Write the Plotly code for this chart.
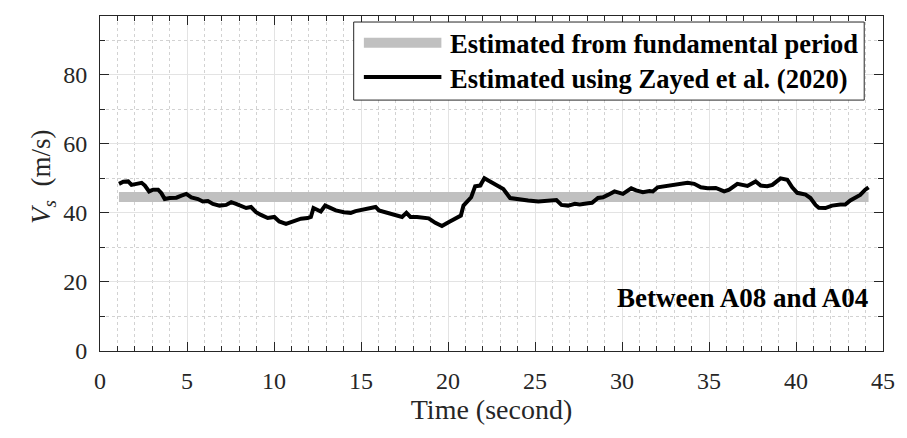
import plotly.graph_objects as go

# Shear-wave velocity estimated over time, between sensors A08 and A04
time_s = [1.09, 1.34, 1.62, 1.81, 2.10, 2.39, 2.58, 2.82, 3.05, 3.34, 3.53, 3.72, 4.01, 4.39,
          4.68, 4.96, 5.25, 5.63, 5.91, 6.20, 6.49, 6.87, 7.25, 7.54, 7.82, 8.11, 8.40, 8.68,
          8.97, 9.25, 9.64, 10.02, 10.30, 10.69, 11.07, 11.55, 11.93, 12.12, 12.27, 12.50,
          12.69, 12.94, 13.17, 13.55, 14.02, 14.41, 14.69, 15.17, 15.45, 15.84, 16.03, 16.50,
          16.98, 17.36, 17.61, 17.84, 18.22, 18.60, 18.89, 19.27, 19.65, 20.03, 20.42, 20.74,
          20.89, 21.08, 21.33, 21.56, 21.85, 22.09, 22.42, 22.80, 23.18, 23.57, 24.04, 24.61,
          25.19, 25.76, 26.23, 26.52, 26.90, 27.29, 27.57, 28.05, 28.28, 28.62, 28.91, 29.19,
          29.57, 30.05, 30.53, 30.81, 31.20, 31.58, 31.77, 32.05, 32.44, 32.82, 33.20, 33.77,
          34.15, 34.53, 34.92, 35.39, 35.87, 36.16, 36.63, 36.92, 37.21, 37.68, 37.97, 38.35,
          38.64, 39.11, 39.50, 39.78, 40.07, 40.55, 40.83, 41.12, 41.31, 41.69, 42.07, 42.55,
          42.83, 43.12, 43.41, 43.69, 43.98, 44.17]
vs_zayed = [48.4, 49.0, 49.1, 48.1, 48.4, 48.7, 47.9, 46.2, 46.7, 46.7, 45.7, 44.0, 44.3, 44.4,
            45.0, 45.5, 44.5, 44.0, 43.3, 43.4, 42.6, 42.1, 42.3, 43.1, 42.6, 41.9, 41.4, 41.7,
            40.2, 39.4, 38.5, 38.8, 37.5, 36.8, 37.5, 38.3, 38.5, 38.8, 41.4, 40.7,
            40.4, 42.1, 41.6, 40.7, 40.2, 40.0, 40.5, 40.9, 41.4, 41.7, 40.7, 40.0,
            39.4, 38.8, 40.0, 38.8, 38.8, 38.6, 38.4, 37.1, 36.2, 37.3, 38.5, 39.2,
            42.1, 43.3, 44.5, 47.7, 47.9, 50.0, 49.0, 48.1, 46.9, 44.3, 43.9, 43.6,
            43.3, 43.6, 43.7, 42.3, 42.1, 42.6, 42.4, 42.8, 42.9, 44.3, 44.5, 45.2,
            46.2, 45.5, 47.1, 46.5, 46.0, 46.3, 46.2, 47.4, 47.7, 47.9, 48.4, 48.7,
            48.4, 47.4, 47.1, 47.2, 46.2, 46.7, 48.4, 48.1, 47.8, 49.1, 47.9, 47.7,
            48.1, 50.0, 49.6, 47.4, 45.8, 45.3, 44.3, 42.3, 41.5, 41.4, 42.1, 42.4,
            42.4, 43.6, 44.5, 45.2, 46.7, 47.4]

# Constant estimate from the fundamental period
period_time = [1.09, 44.17]
vs_period = [44.6, 44.6]

series_names = ["Estimated from fundamental period", "Estimated using Zayed et al. (2020)"]
series_colors = ["#c0c0c0", "black"]
series_widths = [10, 4]
x_ticks = [0, 5, 10, 15, 20, 25, 30, 35, 40, 45]
y_ticks = [0, 20, 40, 60, 80]

SERIF = "Liberation Serif"
INK = "#262626"

fig = go.Figure()
fig.add_trace(go.Scatter(
    x=period_time, y=vs_period, mode="lines", name=series_names[0],
    line=dict(color=series_colors[0], width=series_widths[0]),
))
fig.add_trace(go.Scatter(
    x=time_s, y=vs_zayed, mode="lines", name=series_names[1],
    line=dict(color=series_colors[1], width=series_widths[1]),
))

axis_common = dict(
    showline=True, linecolor=INK, linewidth=1, mirror="allticks",
    ticks="inside", ticklen=9, tickcolor=INK, tickwidth=1,
    showgrid=True, gridcolor="#e3e3e3", gridwidth=1, zeroline=False,
    tickfont=dict(family=SERIF, size=24, color=INK),
)

fig.update_xaxes(
    **axis_common, range=[0, 45], tickvals=x_ticks, ticklabelstandoff=8,
    title=dict(text="Time (second)", font=dict(family=SERIF, size=28, color=INK), standoff=6),
    minor=dict(dtick=1, ticks="inside", ticklen=5, tickcolor=INK,
               showgrid=True, gridcolor="#d2d2d2", griddash="dot", gridwidth=1),
)
fig.update_yaxes(
    **axis_common, range=[0, 97], tickvals=y_ticks, ticklabelstandoff=7,
    title=dict(text="&nbsp;&nbsp;<i>V</i><sub><i>s</i></sub>&nbsp;&nbsp;(m/s)",
               font=dict(family=SERIF, size=27, color=INK), standoff=4),
    minor=dict(dtick=10, ticks="inside", ticklen=5, tickcolor=INK,
               showgrid=True, gridcolor="#d2d2d2", griddash="dot", gridwidth=1),
)

# Legend box drawn in paper coordinates
legend_left, legend_right = 0.324, 0.976
legend_top, legend_bottom = 0.982, 0.749
sample_x0, sample_x1, text_x = 0.337, 0.436, 0.445
row_line_y = [0.920, 0.818]
row_text_y = [0.916, 0.811]

fig.add_shape(type="rect", xref="paper", yref="paper",
              x0=legend_left, x1=legend_right, y0=legend_bottom, y1=legend_top,
              line=dict(color=INK, width=1), fillcolor="white", layer="above")
for name, color, width, ly, ty in zip(series_names, series_colors, series_widths,
                                      row_line_y, row_text_y):
    fig.add_shape(type="line", xref="paper", yref="paper",
                  x0=sample_x0, x1=sample_x1, y0=ly, y1=ly,
                  line=dict(color=color, width=width), layer="above")
    fig.add_annotation(text=f"<b>{name}</b>", xref="paper", yref="paper",
                       x=text_x, y=ty, xanchor="left", yanchor="middle", showarrow=False,
                       font=dict(family=SERIF, size=26.5, color="black"))

fig.add_annotation(
    text="<b>Between A08 and A04</b>", xref="paper", yref="paper",
    x=0.983, y=0.158, xanchor="right", yanchor="middle", showarrow=False,
    font=dict(family=SERIF, size=27, color="black"),
)

fig.update_layout(
    width=907, height=438,
    margin=dict(l=100, r=20, t=16, b=87),
    paper_bgcolor="white", plot_bgcolor="white",
    showlegend=False,
)

fig.write_html("out.html")
